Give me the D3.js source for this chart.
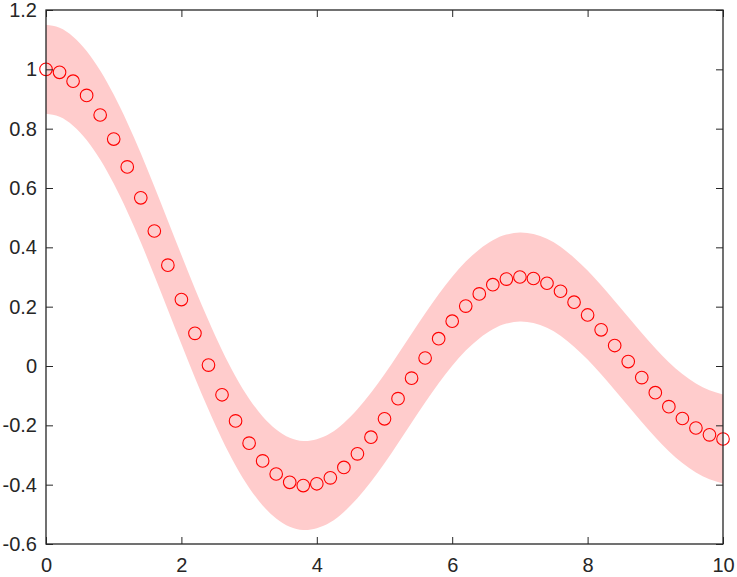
<!DOCTYPE html>
<html><head><meta charset="utf-8">
<script src="https://cdn.jsdelivr.net/npm/d3@7"></script>
<style>body{margin:0;background:#fff;}svg{display:block;}</style>
</head><body>
<svg id="c" width="737" height="577"></svg>
<script>
const xValues = [0,0.2,0.4,0.6,0.8,1,1.2,1.4,1.6,1.8,2,2.2,2.4,2.6,2.8,3,3.2,3.4,3.6,3.8,4,4.2,4.4,4.6,4.8,5,5.2,5.4,5.6,5.8,6,6.2,6.4,6.6,6.8,7,7.2,7.4,7.6,7.8,8,8.2,8.4,8.6,8.8,9,9.2,9.4,9.6,9.8,10];
const yValues = [1.0,0.990,0.960,0.912,0.846,0.765,0.671,0.567,0.455,0.340,0.224,0.110,0.003,-0.097,-0.185,-0.260,-0.320,-0.364,-0.392,-0.403,-0.397,-0.377,-0.342,-0.296,-0.240,-0.178,-0.110,-0.041,0.027,0.092,0.151,0.202,0.243,0.274,0.293,0.300,0.295,0.279,0.252,0.215,0.172,0.122,0.069,0.015,-0.039,-0.090,-0.137,-0.177,-0.209,-0.232,-0.246];
const bandUpper = [1.15,1.140,1.110,1.062,0.996,0.915,0.821,0.717,0.605,0.490,0.374,0.260,0.153,0.053,-0.035,-0.110,-0.170,-0.214,-0.242,-0.253,-0.247,-0.227,-0.192,-0.146,-0.090,-0.028,0.040,0.109,0.177,0.242,0.301,0.352,0.393,0.424,0.443,0.450,0.445,0.429,0.402,0.365,0.322,0.272,0.219,0.165,0.111,0.060,0.013,-0.027,-0.059,-0.082,-0.096];
const bandLower = [0.85,0.840,0.810,0.762,0.696,0.615,0.521,0.417,0.305,0.190,0.074,-0.040,-0.147,-0.247,-0.335,-0.410,-0.470,-0.514,-0.542,-0.553,-0.547,-0.527,-0.492,-0.446,-0.390,-0.328,-0.260,-0.191,-0.123,-0.058,0.001,0.052,0.093,0.124,0.143,0.150,0.145,0.129,0.102,0.065,0.022,-0.028,-0.081,-0.135,-0.189,-0.240,-0.287,-0.327,-0.359,-0.382,-0.396];
const xTicks = [0,2,4,6,8,10];
const yTicks = [-0.6,-0.4,-0.2,0,0.2,0.4,0.6,0.8,1,1.2];

const L=46, R=723, T=10, B=544;
const svg = d3.select('#c');
const x = d3.scaleLinear().domain([0,10]).range([L,R]);
const y = d3.scaleLinear().domain([-0.6,1.2]).range([B,T]);

const band = d3.area().x((d,i)=>x(xValues[i])).y0((d,i)=>y(bandLower[i])).y1((d,i)=>y(bandUpper[i])).curve(d3.curveNatural);
svg.append('path').attr('d', band(xValues)).attr('fill','#ffcccc');

svg.append('g').selectAll('circle').data(xValues).join('circle')
  .attr('cx',(d)=>x(d)).attr('cy',(d,i)=>y(yValues[i])).attr('r',6.3)
  .attr('fill','none').attr('stroke','#ff0000').attr('stroke-width',1.1);

const col='#262626', fs='20px', ff='Arial, "Liberation Sans", Helvetica, sans-serif';
const tl=7;
function fmt(v){ if(v===0) return '0'; return String(Math.round(v*10)/10); }
const gx = svg.append('g').attr('transform',`translate(0,${B})`).call(d3.axisBottom(x).tickValues(xTicks).tickSize(-tl).tickFormat(d=>String(d)));
const gxt = svg.append('g').attr('transform',`translate(0,${T})`).call(d3.axisTop(x).tickValues(xTicks).tickSize(-tl).tickFormat(''));
const gy = svg.append('g').attr('transform',`translate(${L},0)`).call(d3.axisLeft(y).tickValues(yTicks).tickSize(-tl).tickPadding(9).tickFormat(fmt));
const gyr = svg.append('g').attr('transform',`translate(${R},0)`).call(d3.axisRight(y).tickValues(yTicks).tickSize(-tl).tickFormat(''));
[gx,gxt,gy,gyr].forEach(g=>{
  g.select('.domain').remove();
  g.selectAll('line').attr('stroke',col).attr('stroke-width',1);
  g.selectAll('text').attr('fill',col).style('font-size',fs).style('font-family',ff);
});
gx.selectAll('text').attr('dy','0.71em').attr('y',14);
svg.append('rect').attr('x',L).attr('y',T).attr('width',R-L).attr('height',B-T)
  .attr('fill','none').attr('stroke',col).attr('stroke-width',1.3);
</script>
</body></html>
